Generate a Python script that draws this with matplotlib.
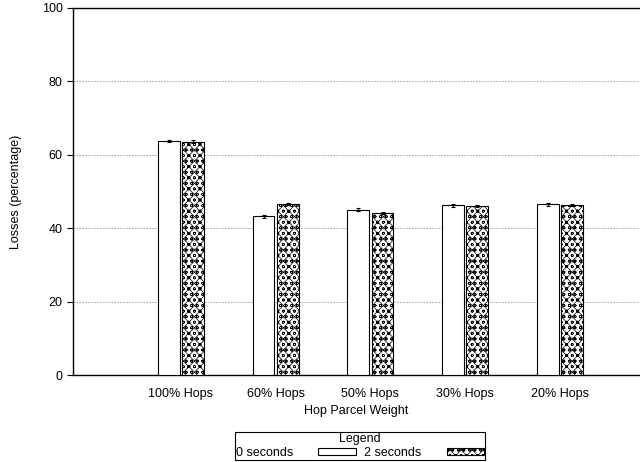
import matplotlib
matplotlib.use("Agg")
import matplotlib.pyplot as plt
import numpy as np
from matplotlib.patches import Patch
from matplotlib.lines import Line2D

plt.rcParams['font.family'] = ['Liberation Sans', 'DejaVu Sans']
plt.rcParams['hatch.linewidth'] = 0.5

categories = ["100% Hops", "60% Hops", "50% Hops", "30% Hops", "20% Hops"]
series_names = ["0 seconds", "2 seconds"]
vals_0s = [63.7, 43.3, 45.0, 46.3, 46.5]
err_0s = [0.3, 0.4, 0.4, 0.4, 0.4]
vals_2s = [63.6, 46.5, 44.2, 46.0, 46.4]
err_2s = [0.3, 0.3, 0.3, 0.3, 0.3]
yticks = [0, 20, 40, 60, 80, 100]

fig = plt.figure(figsize=(6.4, 4.62), dpi=100)
ax = fig.add_axes([73/640, 1-375/462, 1-73/640-0.001, (375-8)/462])

x = np.arange(1, len(categories)+1)
w = 0.23
off = 0.128
HATCH = 'xxxooo'
ax.bar(x - off, vals_0s, w, color='white', edgecolor='black', linewidth=0.8,
       yerr=err_0s, error_kw=dict(ecolor='black', elinewidth=0.8, capsize=1.5, capthick=0.8), zorder=3)
ax.bar(x + off, vals_2s, w, color='white', edgecolor='black', linewidth=0.8, hatch=HATCH,
       yerr=err_2s, error_kw=dict(ecolor='black', elinewidth=0.8, capsize=1.5, capthick=0.8), zorder=3)

ax.set_xlim(-0.14, 5.84)
ax.set_ylim(0, 100)
ax.set_yticks(yticks)
ax.set_xticks(x)
ax.set_xticklabels(categories, fontsize=9)
ax.tick_params(axis='x', length=0, pad=9)
ax.tick_params(axis='y', labelsize=9, length=4, direction='out')
ax.yaxis.grid(True, linestyle=(0, (2, 1.5)), color='#999999', linewidth=0.6, zorder=0)
ax.spines['right'].set_visible(False)
for s in ['left', 'top', 'bottom']:
    ax.spines[s].set_linewidth(1.0)
ax.set_xlabel("Hop Parcel Weight", fontsize=9, labelpad=4)
ax.set_ylabel("Losses (percentage)", fontsize=9, labelpad=14)

handles = [Patch(facecolor='white', edgecolor='black', linewidth=0.8),
           Patch(facecolor='white', edgecolor='black', linewidth=0.8, hatch=HATCH)]
leg = fig.legend(handles, series_names, title="Legend", ncol=2, markerfirst=False,
                 loc='center', bbox_to_anchor=(360/640, 1-446/462), fontsize=9, title_fontsize=9,
                 fancybox=False, edgecolor='black', framealpha=1, borderpad=0.1,
                 handlelength=3.0, handleheight=0.5, columnspacing=0.7, handletextpad=2.0,
                 labelspacing=0.1, borderaxespad=0)
leg.get_frame().set_linewidth(0.8)

fig.canvas.draw()
bb = leg.get_window_extent()
tb = leg.get_title().get_window_extent()
ysep = (tb.y0 - 1) / fig.bbox.height
fig.add_artist(Line2D([bb.x0/fig.bbox.width, bb.x1/fig.bbox.width], [ysep, ysep],
                      transform=fig.transFigure, color='black', linewidth=0.8))

fig.savefig("out.png", dpi=100)
